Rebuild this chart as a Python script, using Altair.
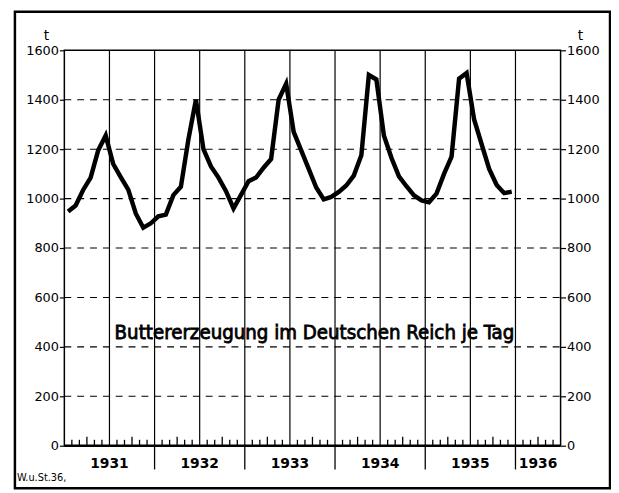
import altair as alt
import pandas as pd

# ---- data (tonnes of butter per day) ----
years = [1931, 1932, 1933, 1934, 1935]
butter_1931 = [948, 972, 1035, 1085, 1195, 1255, 1140, 1087, 1036, 940, 882, 900]
butter_1932 = [928, 935, 1014, 1048, 1240, 1400, 1200, 1130, 1085, 1030, 960, 1015]
butter_1933 = [1070, 1085, 1125, 1160, 1400, 1465, 1270, 1195, 1120, 1045, 997, 1007]
butter_1934 = [1027, 1053, 1093, 1175, 1500, 1482, 1255, 1165, 1090, 1050, 1013, 993]
butter_1935 = [985, 1020, 1100, 1170, 1485, 1508, 1320, 1220, 1120, 1055, 1022, 1028]
series = [butter_1931, butter_1932, butter_1933, butter_1934, butter_1935]

axis_years = ["1931", "1932", "1933", "1934", "1935", "1936"]
y_ticks = [0, 200, 400, 600, 800, 1000, 1200, 1400, 1600]
grid_values = [200, 400, 600, 800, 1000, 1200, 1400]
months_total = 66  # Jan 1931 .. Jun 1936
title_text = "Buttererzeugung im Deutschen Reich je Tag"
source_text = "W.u.St.36,"
unit_text = "t"

W, H = 502, 400
FONT = "DejaVu Sans"
FONT_C = "DejaVu Sans Condensed, Liberation Sans Narrow, DejaVu Sans"

rows = []
for yi, vals in enumerate(series):
    for m, v in enumerate(vals):
        rows.append({"month": yi * 12 + m + 0.5, "t": v})
df = pd.DataFrame(rows)

half_year = pd.DataFrame({"month": list(range(6, months_total, 6))})
month_ticks = pd.DataFrame({"month": [m for m in range(1, months_total) if m % 3 != 0]})
quarter_ticks = pd.DataFrame({"month": [m for m in range(3, months_total, 6)]})
year_sep = pd.DataFrame({"month": list(range(12, months_total, 12))})
year_lab = pd.DataFrame({
    "month": [min(i * 12 + 6, (i * 12 + months_total) / 2) for i in range(len(axis_years))],
    "label": axis_years,
})
grid_df = pd.DataFrame({"v": grid_values})
one = pd.DataFrame({"a": [0]})

x_scale = alt.Scale(domain=[0, months_total], nice=False, zero=False)
y_scale = alt.Scale(domain=[0, 1600], nice=False)

def xq(field="month"):
    return alt.X(f"{field}:Q", scale=x_scale, axis=None)

axis_common = dict(values=y_ticks, title=None, grid=False, domain=False, format="d",
                   tickSize=5, tickColor="black", tickWidth=1.2,
                   labelFont=FONT, labelFontSize=13, labelColor="black",
                   labelPadding=1)

vlines = alt.Chart(half_year).mark_rule(color="black", strokeWidth=1.2).encode(
    x=xq(), y=alt.value(0), y2=alt.value(H))

hgrid = alt.Chart(grid_df).mark_rule(color="black", strokeWidth=1.1, strokeDash=[7, 6]).encode(
    y=alt.Y("v:Q", scale=y_scale, axis=alt.Axis(orient="right", **axis_common)),
    x=alt.value(0), x2=alt.value(W))

line = alt.Chart(df).mark_line(color="black", strokeWidth=4.5, strokeJoin="miter").encode(
    x=xq(),
    y=alt.Y("t:Q", scale=y_scale, axis=alt.Axis(orient="left", **axis_common)))

base_rule = alt.Chart(one).mark_rule(color="black", strokeWidth=2.5).encode(
    x=alt.value(0), x2=alt.value(W), y=alt.value(H))

mticks = alt.Chart(month_ticks).mark_rule(color="black", strokeWidth=1.3).encode(
    x=xq(), y=alt.value(H), y2=alt.value(H - 6))
qticks = alt.Chart(quarter_ticks).mark_rule(color="black", strokeWidth=1.3).encode(
    x=xq(), y=alt.value(H), y2=alt.value(H - 9))
ysep = alt.Chart(year_sep).mark_rule(color="black", strokeWidth=1.3).encode(
    x=xq(), y=alt.value(H), y2=alt.value(H + 24))
ylab = alt.Chart(year_lab).mark_text(font=FONT, fontSize=14, fontWeight="bold",
                                     color="black", baseline="middle").encode(
    x=xq(), y=alt.value(H + 19), text="label:N")

title = alt.Chart(one).mark_text(text=title_text, font=FONT_C, fontSize=20.5,
                                 color="black", stroke="black", strokeWidth=0.8,
                                 baseline="middle").encode(
    x=alt.value(W / 2 + 2), y=alt.value(286))
t_left = alt.Chart(one).mark_text(text=unit_text, font=FONT, fontSize=14,
                                  color="black").encode(x=alt.value(-18), y=alt.value(-14))
t_right = alt.Chart(one).mark_text(text=unit_text, font=FONT, fontSize=14,
                                   color="black").encode(x=alt.value(522), y=alt.value(-14))
source = alt.Chart(one).mark_text(text=source_text, font=FONT_C, fontSize=11,
                                  color="black", align="left").encode(
    x=alt.value(-48), y=alt.value(433))
frame = alt.Chart(one).mark_rect(filled=False, stroke="black", strokeWidth=2.5).encode(
    x=alt.value(-50), x2=alt.value(552), y=alt.value(-39), y2=alt.value(443))

chart = alt.layer(
    vlines, hgrid, line, base_rule, mticks, qticks, ysep, ylab,
    title, t_left, t_right, source, frame
).resolve_axis(y="independent").properties(
    width=W, height=H,
    autosize=alt.AutoSizeParams(type="none"),
    padding={"left": 57, "top": 40, "right": 51, "bottom": 44},
    background="white",
).configure_view(stroke="black", strokeWidth=1.5)

chart.save("out.html", embed_options={"renderer": "svg", "actions": False})
